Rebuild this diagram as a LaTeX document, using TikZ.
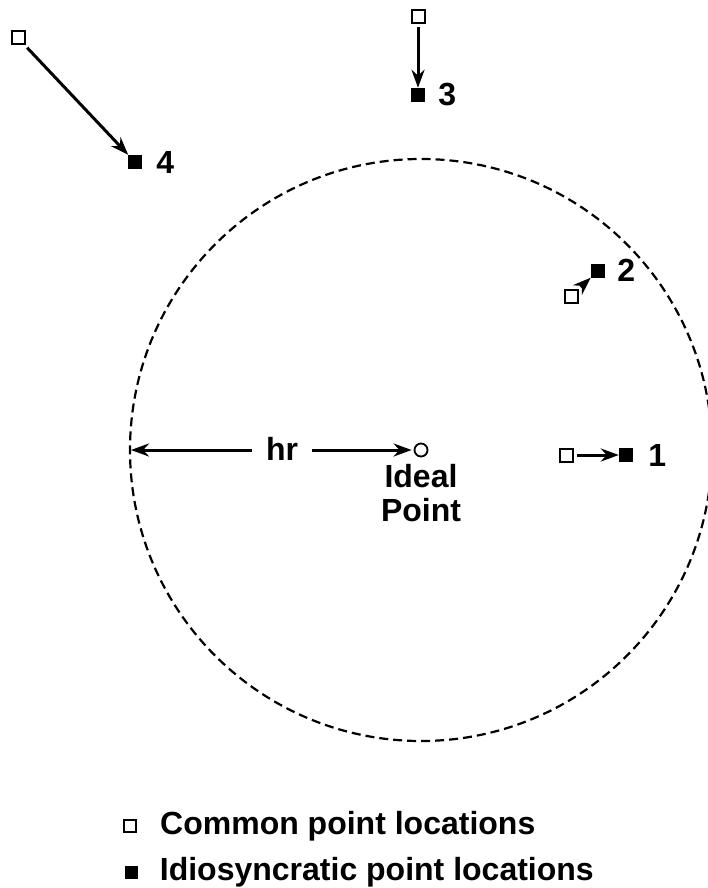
\documentclass[tikz,border=0pt]{standalone}
\usepackage{fontspec}
\setmainfont{Liberation Sans}
\usetikzlibrary{arrows.meta,positioning}
\tikzset{
  commonPt/.style={draw, rectangle, minimum size=13pt, inner sep=0pt, line width=2pt},
  idioPt/.style={fill=black, rectangle, minimum size=14pt, inner sep=0pt},
  idealPt/.style={draw, circle, minimum size=13pt, inner sep=0pt, line width=1.8pt},
  ptArrow/.style={-{Stealth[length=18pt, width=13pt]}, line width=3pt, shorten <=3pt},
  numLabel/.style={font=\fontsize{32}{38}\selectfont\bfseries, inner sep=0pt, anchor=west},
  bigLabel/.style={font=\fontsize{32}{38}\selectfont\bfseries, align=center, inner sep=0pt}
}

\begin{document}
\begin{tikzpicture}[x=1pt, y=-1pt]
  \useasboundingbox (0,0) rectangle (708,888);

  % circle of radius hr around the ideal point
  \draw[dashed, dash pattern=on 9pt off 5pt, line width=2.2pt] (421,450) circle (291);
  \node[idealPt] (ideal) at (421,450) {};
  \node[bigLabel, below=7pt of ideal] (idealLab) {Ideal\\[-4pt]Point};
  \coordinate (rim) at (131,450);
  \node[bigLabel, minimum width=60pt, minimum height=20pt] (hr) at (282,450) {\raisebox{3pt}{hr}};
  \draw[ptArrow, shorten <=0pt] (hr) -- (rim);
  \draw[ptArrow, shorten <=0pt, shorten >=2pt] (hr) -- (ideal);

  % point pairs
  \node[commonPt] (c1) at (566,455) {};
  \node[idioPt] (f1) at (626,455) {};
  \node[numLabel, right=15pt of f1] (n1) {1};
  \node[commonPt] (c2) at (571,296) {};
  \node[idioPt] (f2) at (598,271) {};
  \node[numLabel, right=12pt of f2, yshift=1pt] (n2) {2};
  \node[commonPt] (c3) at (418,17) {};
  \node[idioPt] (f3) at (418,95) {};
  \node[numLabel, right=13pt of f3] (n3) {3};
  \node[commonPt] (c4) at (18,38) {};
  \node[idioPt] (f4) at (135,162) {};
  \node[numLabel, right=14pt of f4] (n4) {4};
  \foreach \i in {1,2,3,4}
    \draw[ptArrow] (c\i) -- (f\i);

  % legend
  \node[commonPt, minimum size=12pt] (legC) at (130,826) {};
  \node[numLabel, right=23pt of legC] (legCtxt) {Common point locations};
  \node[idioPt, minimum size=13pt] (legF) at (131,872) {};
  \node[numLabel, right=22pt of legF] (legFtxt) {Idiosyncratic point locations};
\end{tikzpicture}
\end{document}
